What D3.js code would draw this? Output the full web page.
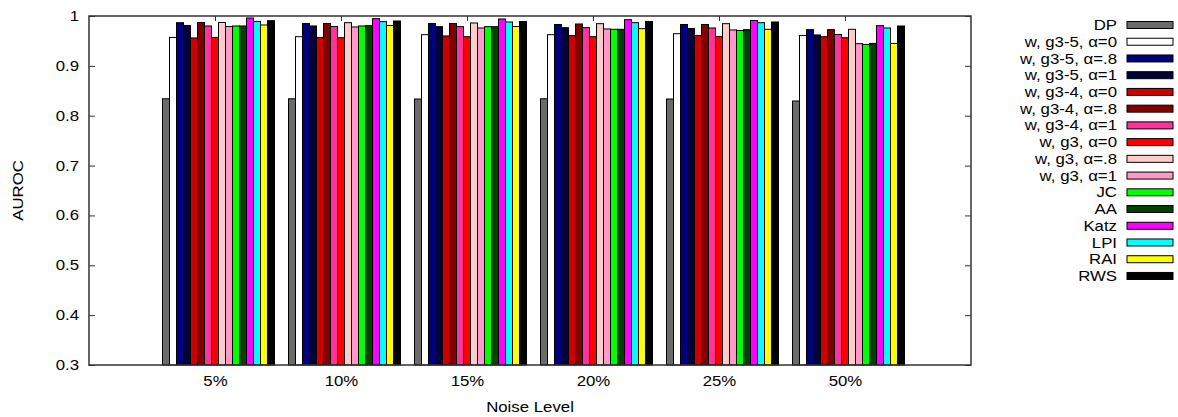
<!DOCTYPE html>
<html>
<head>
<meta charset="utf-8">
<script src="https://cdn.jsdelivr.net/npm/d3@7"></script>
<style>
  body { margin: 0; background: #fff; }
  text { font-family: "Liberation Sans", Arial, sans-serif; fill: #000; }
</style>
</head>
<body>
<div id="chart-area"></div>
<script>
// noise levels on the x axis
const noiseLevels = ["5%", "10%", "15%", "20%", "25%", "50%"];

// series names, same order as the legend
const seriesNames = ["DP", "w, g3-5, α=0", "w, g3-5, α=.8", "w, g3-5, α=1",
  "w, g3-4, α=0", "w, g3-4, α=.8", "w, g3-4, α=1",
  "w, g3, α=0", "w, g3, α=.8", "w, g3, α=1",
  "JC", "AA", "Katz", "LPI", "RAI", "RWS"];

const seriesColors = ["#6b6b6b", "#ffffff", "#00007f", "#00003a",
  "#cc0000", "#800000", "#ff3399",
  "#ff0000", "#ffcccc", "#ff99cc",
  "#00ff00", "#004000", "#ff00ff", "#00ffff", "#ffff00", "#000000"];

// AUROC per noise level (one array per series)
const DP       = [0.834, 0.834, 0.8335, 0.834, 0.8335, 0.8295];
const g35a0    = [0.957, 0.9585, 0.9625, 0.9625, 0.9645, 0.961];
const g35a8    = [0.9866, 0.985, 0.985, 0.983, 0.983, 0.9726];
const g35a1    = [0.981, 0.980, 0.9786, 0.9766, 0.975, 0.962];
const g34a0    = [0.956, 0.957, 0.960, 0.9606, 0.961, 0.9585];
const g34a8    = [0.987, 0.985, 0.985, 0.984, 0.983, 0.9726];
const g34a1    = [0.980, 0.979, 0.9786, 0.9766, 0.976, 0.963];
const g3a0     = [0.957, 0.9565, 0.9585, 0.9585, 0.959, 0.9565];
const g3a8     = [0.987, 0.9866, 0.986, 0.9846, 0.9846, 0.9733];
const g3a1     = [0.979, 0.978, 0.976, 0.974, 0.972, 0.9445];
const JC       = [0.980, 0.980, 0.9786, 0.9733, 0.971, 0.943];
const AA       = [0.980, 0.9806, 0.9786, 0.9733, 0.9726, 0.945];
const Katz     = [0.996, 0.9947, 0.994, 0.9926, 0.991, 0.9806];
const LPI      = [0.989, 0.9887, 0.988, 0.9866, 0.9866, 0.976];
const RAI      = [0.982, 0.981, 0.979, 0.9746, 0.9733, 0.945];
const RWS      = [0.9906, 0.990, 0.989, 0.989, 0.988, 0.980];

const seriesValues = [DP, g35a0, g35a8, g35a1, g34a0, g34a8, g34a1,
  g3a0, g3a8, g3a1, JC, AA, Katz, LPI, RAI, RWS];

const yTicks = [0.3, 0.4, 0.5, 0.6, 0.7, 0.8, 0.9, 1];

// layout
const W = 1178, H = 417;
const margin = {left: 89, top: 16, right: 207, bottom: 52};
const width = W - margin.left - margin.right,
      height = H - margin.top - margin.bottom;
const sx = 1.2;          // text is a bit stretched horizontally in the original
const fontSize = "14px";
const borderColor = "#333";

const svg = d3.select("#chart-area").append("svg")
  .attr("width", W).attr("height", H);

const group = svg.append("g")
  .attr("transform", "translate(" + margin.left + "," + margin.top + ")");

// scales
const x = d3.scaleLinear().domain([-1, noiseLevels.length]).range([0, width]);
const inner = d3.scaleBand().domain(seriesNames)
  .range([-7.5 / 18, 8.5 / 18]);
const y = d3.scaleLinear().domain([0.3, 1]).range([height, 0]);

// y axis left
const yAxis = group.append("g").call(d3.axisLeft(y).tickValues(yTicks)
  .tickFormat(d => d === 1 ? "1" : d3.format(".1f")(d))
  .tickSizeInner(-6).tickSizeOuter(0).tickPadding(10));
yAxis.select(".domain").remove();
yAxis.selectAll("line").attr("stroke", borderColor);
yAxis.selectAll("text")
  .attr("font-size", fontSize)
  .attr("x", -10 / sx)
  .attr("transform", "scale(" + sx + ",1)");

// y ticks right (mirror)
const yAxisR = group.append("g").attr("transform", "translate(" + width + ",0)")
  .call(d3.axisRight(y).tickValues(yTicks).tickSizeInner(-6).tickSizeOuter(0).tickFormat(""));
yAxisR.select(".domain").remove();
yAxisR.selectAll("line").attr("stroke", borderColor);

// x ticks top (mirror)
const xAxisTop = group.append("g")
  .call(d3.axisTop(x).tickValues(d3.range(noiseLevels.length))
    .tickSizeInner(-5).tickSizeOuter(0).tickFormat(""));
xAxisTop.select(".domain").remove();
xAxisTop.selectAll("line").attr("stroke", borderColor);

// x axis bottom with labels
const xAxis = group.append("g").attr("transform", "translate(0," + height + ")")
  .call(d3.axisBottom(x).tickValues(d3.range(noiseLevels.length))
    .tickFormat(i => noiseLevels[i])
    .tickSizeInner(-5).tickSizeOuter(0).tickPadding(11));
xAxis.select(".domain").remove();
xAxis.selectAll("line").attr("stroke", borderColor);
xAxis.selectAll("text")
  .attr("font-size", fontSize)
  .attr("transform", "scale(" + sx + ",1)")
  .attr("x", 0);

// bars
seriesNames.forEach(function(name, s) {
  group.append("g")
    .selectAll("rect")
    .data(seriesValues[s])
    .enter()
    .append("rect")
    .attr("x", (d, i) => x(i + inner(name)))
    .attr("y", d => y(d))
    .attr("width", x(inner.bandwidth()) - x(0))
    .attr("height", d => height - y(d))
    .attr("fill", seriesColors[s])
    .attr("stroke", "#000")
    .attr("stroke-width", 1);
});

// plot border
group.append("rect")
  .attr("x", 0).attr("y", 0)
  .attr("width", width).attr("height", height)
  .attr("fill", "none")
  .attr("stroke", borderColor)
  .attr("stroke-width", 1.5);

// axis titles
svg.append("text")
  .attr("transform", "translate(" + (margin.left + width / 2) + "," + 412 + ") scale(" + sx + ",1)")
  .attr("text-anchor", "middle")
  .attr("font-size", fontSize)
  .text("Noise Level");

svg.append("text")
  .attr("transform", "translate(23," + (margin.top + height / 2) + ") rotate(-90) scale(" + sx + ",1)")
  .attr("text-anchor", "middle")
  .attr("font-size", fontSize)
  .text("AUROC");

// legend
const legend = svg.append("g").attr("transform", "translate(1117,25)");
const rowH = 16.73;
const rows = legend.selectAll("g")
  .data(seriesNames)
  .enter()
  .append("g")
  .attr("transform", (d, i) => "translate(0," + (i * rowH) + ")");

rows.append("text")
  .attr("transform", "scale(" + sx + ",1)")
  .attr("text-anchor", "end")
  .attr("dy", "0.36em")
  .attr("font-size", fontSize)
  .text(d => d);

rows.append("rect")
  .attr("x", 10).attr("y", -3.5)
  .attr("width", 46).attr("height", 7)
  .attr("fill", (d, i) => seriesColors[i])
  .attr("stroke", "#000")
  .attr("stroke-width", 1);
</script>
</body>
</html>
